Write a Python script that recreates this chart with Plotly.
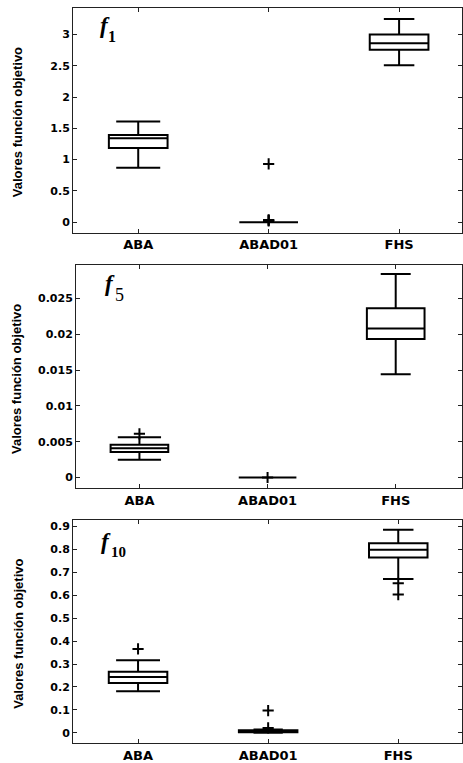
import plotly.graph_objects as go

W, H = 463, 763

categories = ["ABA", "ABAD01", "FHS"]
cat_pos = [1, 2, 3]
y_title = "Valores función objetivo"

# Box statistics per algorithm (ABA, ABAD01, FHS) for each benchmark function
f1_lower = [0.868, 0.0, 2.51]
f1_q1 = [1.186, 0.0, 2.757]
f1_median = [1.34, 0.0, 2.86]
f1_q3 = [1.392, 0.0, 3.0]
f1_upper = [1.61, 0.0, 3.25]
f1_outliers = [[], [0.93, 0.02, 0.03, 0.035], []]
f1_ticks = [0, 0.5, 1, 1.5, 2, 2.5, 3]
f1_ticktext = ["0", "0.5", "1", "1.5", "2", "2.5", "3"]

f5_lower = [0.0025, 0.0, 0.01444]
f5_q1 = [0.00357, 0.0, 0.01936]
f5_median = [0.00408, 0.0, 0.02083]
f5_q3 = [0.00458, 0.0, 0.02364]
f5_upper = [0.00561, 0.0, 0.02843]
f5_outliers = [[0.0061], [0.0], []]
f5_ticks = [0, 0.005, 0.01, 0.015, 0.02, 0.025]
f5_ticktext = ["0", "0.005", "0.01", "0.015", "0.02", "0.025"]

f10_lower = [0.181, 0.0, 0.671]
f10_q1 = [0.217, 0.002, 0.765]
f10_median = [0.243, 0.005, 0.799]
f10_q3 = [0.266, 0.011, 0.827]
f10_upper = [0.316, 0.014, 0.886]
f10_outliers = [[0.366], [0.097, 0.021], [0.652, 0.603]]
f10_ticks = [0, 0.1, 0.2, 0.3, 0.4, 0.5, 0.6, 0.7, 0.8, 0.9]
f10_ticktext = ["0", "0.1", "0.2", "0.3", "0.4", "0.5", "0.6", "0.7", "0.8", "0.9"]


def px_x(p):
    return p / W


def px_y(p):
    return 1 - p / H


panels = [
    dict(sub="1", sub_size=16, sub_weight="bold",
         stats=(f1_lower, f1_q1, f1_median, f1_q3, f1_upper), outliers=f1_outliers,
         ticks=f1_ticks, ticktext=f1_ticktext, yrange=[-0.17, 3.42], xrange=[0.5, 3.48],
         xdom=[73, 461.7], ydom=[8.3, 234.3],
         f_xy=(105, 25.5), sub_xy=(112.2, 37.2), title_xy=(17.5, 123.5)),
    dict(sub="5", sub_size=18, sub_weight="normal",
         stats=(f5_lower, f5_q1, f5_median, f5_q3, f5_upper), outliers=f5_outliers,
         ticks=f5_ticks, ticktext=f5_ticktext, yrange=[-0.00153, 0.0297], xrange=[0.505, 3.515],
         xdom=[76, 461.7], ydom=[266.7, 491.7],
         f_xy=(109.8, 285.2), sub_xy=(119.3, 297), title_xy=(16, 381.5)),
    dict(sub="10", sub_size=15, sub_weight="bold",
         stats=(f10_lower, f10_q1, f10_median, f10_q3, f10_upper), outliers=f10_outliers,
         ticks=f10_ticks, ticktext=f10_ticktext, yrange=[-0.045, 0.929], xrange=[0.5, 3.49],
         xdom=[73, 462], ydom=[523.3, 748],
         f_xy=(105.5, 545.2), sub_xy=(118, 555.7), title_xy=(18.5, 638.5)),
]

whisker_frac = [0.75, 0.5, 0.52]

fig = go.Figure()
layout = dict(
    width=W, height=H, margin=dict(l=0, r=0, t=0, b=0),
    paper_bgcolor="white", plot_bgcolor="white", showlegend=False,
    annotations=[],
)

tick_font = dict(family="DejaVu Sans", size=11, color="black", weight="bold")
cat_font = dict(family="DejaVu Sans", size=13, color="black", weight="bold")

for i, p in enumerate(panels, start=1):
    xa = "x" if i == 1 else f"x{i}"
    ya = "y" if i == 1 else f"y{i}"
    lower, q1, med, q3, upper = p["stats"]
    for j in range(3):
        fig.add_trace(go.Box(
            x=[cat_pos[j]], lowerfence=[lower[j]], q1=[q1[j]], median=[med[j]],
            q3=[q3[j]], upperfence=[upper[j]], boxpoints=False, width=0.45,
            whiskerwidth=whisker_frac[j], fillcolor="white",
            line=dict(color="black", width=2), xaxis=xa, yaxis=ya,
        ))
        if p["outliers"][j]:
            fig.add_trace(go.Scatter(
                x=[cat_pos[j]] * len(p["outliers"][j]), y=p["outliers"][j],
                mode="markers", xaxis=xa, yaxis=ya,
                marker=dict(symbol="cross-thin", size=8,
                            line=dict(color="black", width=2)),
            ))

    axis_common = dict(showline=True, linecolor="#222", linewidth=1, mirror="ticks",
                       ticks="inside", ticklen=4, tickcolor="#222", showgrid=False,
                       zeroline=False)
    layout["xaxis" if i == 1 else f"xaxis{i}"] = dict(
        axis_common, domain=[px_x(p["xdom"][0]), px_x(p["xdom"][1])],
        range=p["xrange"], tickvals=cat_pos, ticktext=categories,
        tickfont=cat_font, anchor=ya,
    )
    layout["yaxis" if i == 1 else f"yaxis{i}"] = dict(
        axis_common, domain=[px_y(p["ydom"][1]), px_y(p["ydom"][0])],
        range=p["yrange"], tickvals=p["ticks"], ticktext=p["ticktext"],
        tickfont=tick_font, anchor=xa,
    )
    # function name: italic f with its index as a subscript
    fx, fy = p["f_xy"]
    layout["annotations"].append(dict(
        text="f", xref="paper", yref="paper", x=px_x(fx), y=px_y(fy),
        xanchor="center", yanchor="middle", showarrow=False,
        font=dict(family="Liberation Serif", size=23, color="black",
                  style="italic", weight="bold"),
    ))
    sx, sy = p["sub_xy"]
    layout["annotations"].append(dict(
        text=p["sub"], xref="paper", yref="paper", x=px_x(sx), y=px_y(sy),
        xanchor="center", yanchor="middle", showarrow=False,
        font=dict(family="Liberation Serif", size=p["sub_size"], color="black",
                  weight=p["sub_weight"]),
    ))
    tx, ty = p["title_xy"]
    layout["annotations"].append(dict(
        text=y_title, xref="paper", yref="paper", x=px_x(tx), y=px_y(ty),
        xanchor="center", yanchor="middle", showarrow=False, textangle=-90,
        font=dict(family="Liberation Sans Narrow, Liberation Sans", size=13,
                  color="black", weight="bold"),
    ))

fig.update_layout(**layout)
fig.write_html("out.html")
